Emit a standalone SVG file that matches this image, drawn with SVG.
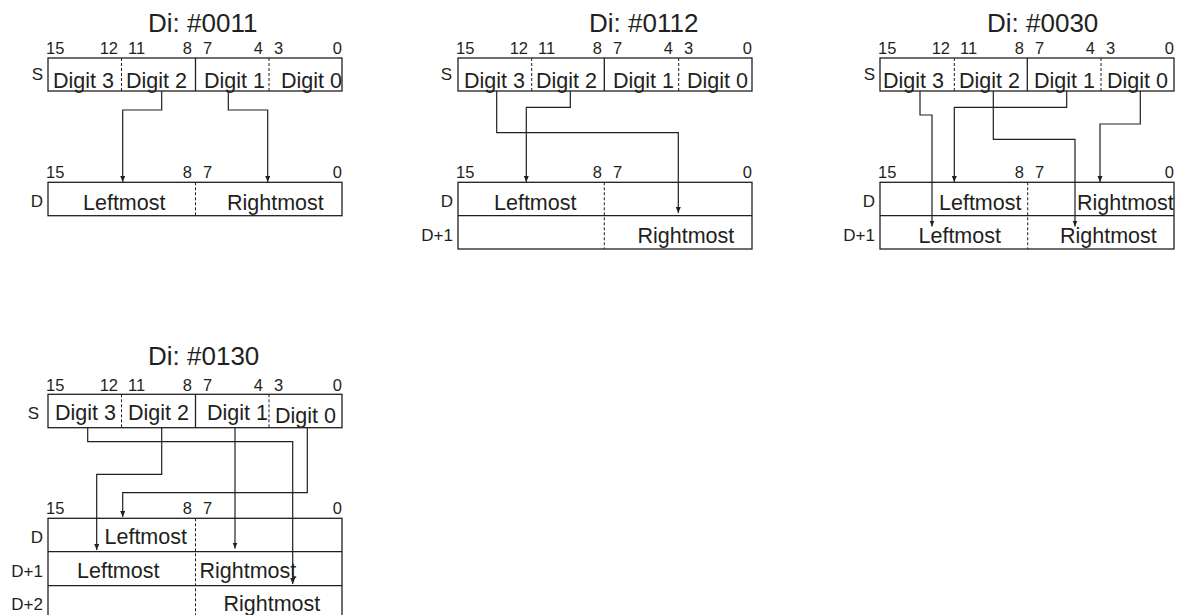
<svg xmlns="http://www.w3.org/2000/svg" width="1178" height="615" viewBox="0 0 1178 615">
<defs>
<style>
text{font-family:"Liberation Sans",Arial,sans-serif;fill:#231f20}
.t{font-size:26px}
.b{font-size:16.5px}
.l{font-size:17px;text-anchor:end}
.d{font-size:21.5px}
.e{text-anchor:end}
.box{fill:#fff;stroke:#231f20;stroke-width:1.3}
.sol{stroke:#231f20;stroke-width:1.3;fill:none}
.dash{stroke:#231f20;stroke-width:1;stroke-dasharray:3 2;fill:none}
.c{stroke:#231f20;stroke-width:1.2;fill:none;marker-end:url(#ah)}
</style>
<marker id="ah" markerUnits="userSpaceOnUse" markerWidth="7" markerHeight="6" refX="6" refY="2.5" orient="auto">
<path d="M0,0 L6,2.5 L0,5 z" fill="#231f20"/>
</marker>
</defs>

<!-- Diagram 1 -->
<g id="d1">
<text class="t" x="148" y="32">Di: #0011</text>
<g class="b">
<text x="46" y="54">15</text><text class="e" x="118" y="54">12</text><text x="128" y="54">11</text><text class="e" x="192" y="54">8</text>
<text x="203" y="54">7</text><text class="e" x="263" y="54">4</text><text x="274" y="54">3</text><text class="e" x="342" y="54">0</text>
</g>
<text class="l" x="43" y="80">S</text>
<rect class="box" x="48" y="58" width="294" height="33"/>
<line class="dash" x1="121.5" y1="58" x2="121.5" y2="91"/>
<line class="sol" x1="195.5" y1="58" x2="195.5" y2="91"/>
<line class="dash" x1="269" y1="58" x2="269" y2="91"/>
<g class="d">
<text x="53" y="88">Digit 3</text><text x="126" y="88">Digit 2</text><text x="204" y="88">Digit 1</text><text x="281" y="88">Digit 0</text>
</g>
<g class="b">
<text x="46" y="178">15</text><text class="e" x="192" y="178">8</text><text x="203" y="178">7</text><text class="e" x="342" y="178">0</text>
</g>
<text class="l" x="43" y="207">D</text>
<rect class="box" x="48" y="182.3" width="294" height="33.4"/>
<line class="dash" x1="195.5" y1="182.3" x2="195.5" y2="215.7"/>
<text class="d" x="83" y="210">Leftmost</text>
<text class="d" x="227" y="210">Rightmost</text>
</g>

<!-- Diagram 2 -->
<g id="d2">
<text class="t" x="589" y="32">Di: #0112</text>
<g class="b">
<text x="456" y="54">15</text><text class="e" x="528" y="54">12</text><text x="538" y="54">11</text><text class="e" x="602" y="54">8</text>
<text x="613" y="54">7</text><text class="e" x="673" y="54">4</text><text x="684" y="54">3</text><text class="e" x="752" y="54">0</text>
</g>
<text class="l" x="452" y="80">S</text>
<rect class="box" x="458" y="58" width="294" height="33"/>
<line class="dash" x1="531.7" y1="58" x2="531.7" y2="91"/>
<line class="sol" x1="604.3" y1="58" x2="604.3" y2="91"/>
<line class="dash" x1="678.7" y1="58" x2="678.7" y2="91"/>
<g class="d">
<text x="464" y="88">Digit 3</text><text x="536" y="88">Digit 2</text><text x="613" y="88">Digit 1</text><text x="687" y="88">Digit 0</text>
</g>
<g class="b">
<text x="456" y="178">15</text><text class="e" x="602" y="178">8</text><text x="613" y="178">7</text><text class="e" x="752" y="178">0</text>
</g>
<text class="l" x="453" y="207">D</text>
<text class="l" x="453" y="241">D+1</text>
<rect class="box" x="458" y="182.3" width="294" height="66.7"/>
<line class="sol" x1="458" y1="215.7" x2="752" y2="215.7"/>
<line class="dash" x1="604.3" y1="182.3" x2="604.3" y2="249"/>
<text class="d" x="494" y="210">Leftmost</text>
<text class="d" x="637.5" y="243">Rightmost</text>
</g>

<!-- Diagram 3 -->
<g id="d3">
<text class="t" x="987" y="32">Di: #0030</text>
<g class="b">
<text x="878" y="54">15</text><text class="e" x="950" y="54">12</text><text x="960" y="54">11</text><text class="e" x="1024" y="54">8</text>
<text x="1035" y="54">7</text><text class="e" x="1095" y="54">4</text><text x="1106" y="54">3</text><text class="e" x="1174" y="54">0</text>
</g>
<text class="l" x="875" y="80">S</text>
<rect class="box" x="880" y="58" width="294" height="33"/>
<line class="dash" x1="954.3" y1="58" x2="954.3" y2="91"/>
<line class="sol" x1="1027.3" y1="58" x2="1027.3" y2="91"/>
<line class="dash" x1="1101" y1="58" x2="1101" y2="91"/>
<g class="d">
<text x="883" y="87.5">Digit 3</text><text x="959" y="87.5">Digit 2</text><text x="1034" y="87.5">Digit 1</text><text x="1107" y="87.5">Digit 0</text>
</g>
<g class="b">
<text x="878" y="178">15</text><text class="e" x="1024" y="178">8</text><text x="1035" y="178">7</text><text class="e" x="1174" y="178">0</text>
</g>
<text class="l" x="875" y="207">D</text>
<text class="l" x="875" y="241">D+1</text>
<rect class="box" x="880" y="182.3" width="294" height="66.7"/>
<line class="sol" x1="880" y1="215.7" x2="1174" y2="215.7"/>
<line class="dash" x1="1027.7" y1="182.3" x2="1027.7" y2="249"/>
<text class="d" x="939" y="210">Leftmost</text>
<text class="d" x="1077" y="210">Rightmost</text>
<text class="d" x="918.5" y="243">Leftmost</text>
<text class="d" x="1060" y="243">Rightmost</text>
</g>

<!-- Diagram 4 -->
<g id="d4">
<text class="t" x="148" y="365">Di: #0130</text>
<g class="b">
<text x="46" y="390.5">15</text><text class="e" x="118" y="390.5">12</text><text x="128" y="390.5">11</text><text class="e" x="192" y="390.5">8</text>
<text x="203" y="390.5">7</text><text class="e" x="263" y="390.5">4</text><text x="274" y="390.5">3</text><text class="e" x="342" y="390.5">0</text>
</g>
<text class="l" x="39" y="419">S</text>
<rect class="box" x="48" y="394.3" width="294" height="33.4"/>
<line class="dash" x1="121.5" y1="394.3" x2="121.5" y2="427.7"/>
<line class="sol" x1="195.5" y1="394.3" x2="195.5" y2="427.7"/>
<line class="dash" x1="269" y1="394.3" x2="269" y2="427.7"/>
<g class="d">
<text x="55" y="420">Digit 3</text><text x="128" y="420">Digit 2</text><text x="207" y="420">Digit 1</text><text x="275" y="423">Digit 0</text>
</g>
<g class="b">
<text x="46" y="514">15</text><text class="e" x="192" y="514">8</text><text x="203" y="514">7</text><text class="e" x="342" y="514">0</text>
</g>
<text class="l" x="43" y="543">D</text>
<text class="l" x="43" y="577">D+1</text>
<text class="l" x="43" y="610">D+2</text>
<rect class="box" x="48" y="518.3" width="294" height="101"/>
<line class="sol" x1="48" y1="551.7" x2="342" y2="551.7"/>
<line class="sol" x1="48" y1="585.7" x2="342" y2="585.7"/>
<line class="dash" x1="195.5" y1="518.3" x2="195.5" y2="619"/>
<text class="d" x="104.5" y="544">Leftmost</text>
<text class="d" x="77" y="577.5">Leftmost</text>
<text class="d" x="199.5" y="577.5">Rightmost</text>
<text class="d" x="223.5" y="611">Rightmost</text>
</g>

<g id="connectors">
<path class="c" d="M161.7,91 V110 H122.7 V182"/>
<path class="c" d="M228.3,91 V110 H267.7 V182"/>
<path class="c" d="M496.7,91 V132.7 H678.3 V213"/>
<path class="c" d="M570.3,91 V107.3 H526.3 V182"/>
<path class="c" d="M920,91 V115 H932 V226.5"/>
<path class="c" d="M1066.7,91 V107.3 H954.3 V182"/>
<path class="c" d="M993.3,91 V139.3 H1075 V226.5"/>
<path class="c" d="M1140.3,91 V124 H1100 V182"/>
<path class="c" d="M87.7,427.7 V441.7 H292.7 V584"/>
<path class="c" d="M161.7,427.7 V474.3 H96.7 V550"/>
<path class="c" d="M235,427.7 V548.5"/>
<path class="c" d="M307.3,427.7 V492.7 H122.7 V517"/>
</g>
</svg>
